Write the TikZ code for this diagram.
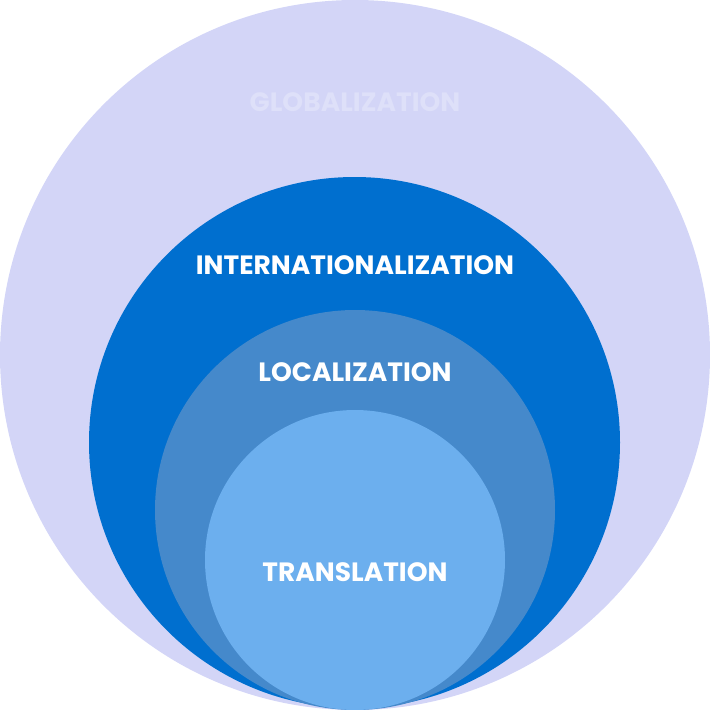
\documentclass[tikz,border=0pt]{standalone}
\usepackage{fontspec}
\setmainfont{Poppins}
\usepackage{xcolor}
\usetikzlibrary{positioning}
\definecolor{globfill}{HTML}{D3D5F7}
\definecolor{globtext}{HTML}{DEE0F9}
\definecolor{intlfill}{HTML}{006FCF}
\definecolor{locfill}{HTML}{4589CB}
\definecolor{transfill}{HTML}{6CAFEE}

\begin{document}
\begin{tikzpicture}[
    x=1pt, y=-1pt,
    ring/.style={circle, inner sep=0pt, draw=none},
    label/.style={font=\fontsize{26.5}{30}\selectfont\bfseries, text=white},
]
\useasboundingbox (0,0) rectangle (710,710);

% Circles
\node[ring, fill=globfill, minimum size=710pt] (glob) at (355,355) {};
\node[ring, fill=intlfill, minimum size=531pt] (intl) at (354.5,442.5) {};
\node[ring, fill=locfill, minimum size=400pt] (loc) at (355,510) {};
\node[ring, fill=transfill, minimum size=300pt] (trans) at (355,560) {};

% Labels
\node[label, text=globtext] (globlabel) at (355,102) {GLOBALIZATION};
\node[label] (intllabel) at (355,265) {INTERNATIONALIZATION};
\node[label] (loclabel) at (355,372) {LOCALIZATION};
\node[label] (translabel) at (355,572) {TRANSLATION};

\end{tikzpicture}
\end{document}
